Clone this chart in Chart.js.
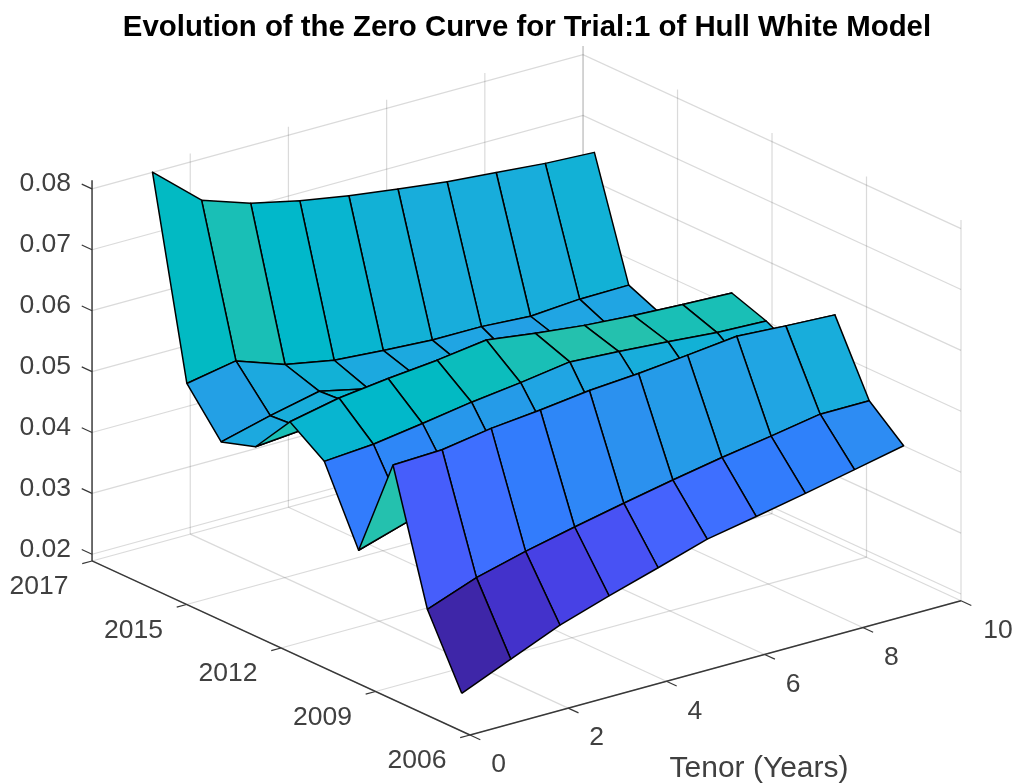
<!DOCTYPE html>
<html><head><meta charset="utf-8">
<style>html,body{margin:0;padding:0;background:#fff}canvas{display:block}</style>
<script src="https://cdn.jsdelivr.net/npm/chart.js@4/dist/chart.umd.min.js"></script>
</head><body><canvas id="c" width="1013" height="784"></canvas>
<script>
// ---- data ----
const tenors = [1,2,3,4,5,6,7,8,9,10];
const years = [2008.66,2009.66,2010.66,2011.66,2012.66,2013.66,2014.66,2015.66,2016.66,2017.66];
const curve2008 = [.0192,.0226,.0260,.0286,.0310,.0335,.0350,.0366,.0383,.0400];
const curve2009 = [.0304,.0334,.0355,.0373,.0390,.0406,.0421,.0434,.0448,.0448];
const curve2010 = [.0515,.0518,.0531,.0539,.0549,.0555,.0563,.0572,.0567,.0563];
const curve2011 = [.0349,.0374,.0402,.0413,.0427,.0431,.0453,.0456,.0463,.0471];
const curve2012 = [.0469,.0475,.0487,.0500,.0510,.0522,.0517,.0511,.0504,.0501];
const curve2013 = [.0508,.0525,.0535,.0543,.0554,.0543,.0534,.0528,.0524,.0521];
const curve2014 = [.0441,.0448,.0466,.0465,.0465,.0462,.0459,.0455,.0450,.0448];
const curve2015 = [.0423,.0444,.0462,.0444,.0441,.0434,.0424,.0431,.0429,.0431];
const curve2016 = [.0493,.0508,.0480,.0465,.0459,.0454,.0454,.0449,.0455,.0456];
const curve2017 = [.0814,.0746,.0719,.0701,.0687,.0676,.0666,.0659,.0652,.0648];
const zeroCurves = [curve2008,curve2009,curve2010,curve2011,curve2012,curve2013,curve2014,curve2015,curve2016,curve2017];
const tenorTicks = [0,2,4,6,8,10];
const tenorTickLabels = ['0','2','4','6','8','10'];
const yearTicks = [2006.99,2009.74,2012.49,2015.24,2017.99];
const yearTickLabels = ['2006','2009','2012','2015','2017'];
const rateTicks = [.02,.03,.04,.05,.06,.07,.08];
const rateTickLabels = ['0.02','0.03','0.04','0.05','0.06','0.07','0.08'];
const titleText = 'Evolution of the Zero Curve for Trial:1 of Hull White Model';
const tenorLabel = 'Tenor (Years)';

// ---- axes limits and view ----
const tMin=0,tMax=10,yMin=2006.99,yMax=2017.99,zMin=.0189,zMax=.0814;
const project=(t,Y,z)=>({x:470+49.1*t-34.36*(Y-yMin), y:735-13.43*t-15.82*(Y-yMin)-6090*(z-zMin)});

const parula=[[.2422,.1504,.6603],[.2504,.1650,.7076],[.2578,.1818,.7511],[.2647,.1978,.7952],[.2706,.2147,.8364],[.2751,.2342,.8710],[.2783,.2559,.8991],[.2803,.2782,.9221],[.2813,.3006,.9414],[.2810,.3228,.9579],[.2795,.3447,.9717],[.2760,.3667,.9829],[.2699,.3892,.9906],[.2602,.4123,.9952],[.2440,.4358,.9988],[.2206,.4603,.9973],[.1963,.4847,.9892],[.1834,.5074,.9798],[.1786,.5289,.9682],[.1764,.5499,.9520],[.1687,.5703,.9359],[.1540,.5902,.9218],[.1460,.6091,.9079],[.1380,.6276,.8973],[.1248,.6459,.8883],[.1113,.6635,.8763],[.0952,.6798,.8598],[.0689,.6948,.8394],[.0297,.7082,.8163],[.0036,.7203,.7917],[.0067,.7312,.7660],[.0433,.7411,.7394],[.0964,.7500,.7120],[.1408,.7584,.6842],[.1717,.7670,.6554],[.1938,.7758,.6251],[.2161,.7843,.5923],[.2470,.7918,.5567],[.2906,.7973,.5188],[.3406,.8008,.4789],[.3909,.8029,.4354],[.4456,.8024,.3909],[.5044,.7993,.3480],[.5616,.7942,.3045],[.6174,.7876,.2612],[.6720,.7793,.2227],[.7242,.7698,.1910],[.7738,.7598,.1646],[.8203,.7498,.1535],[.8634,.7406,.1596],[.9035,.7330,.1774],[.9393,.7288,.2100],[.9728,.7298,.2394],[.9956,.7434,.2371],[.9970,.7659,.2199],[.9952,.7861,.1967],[.9892,.8086,.1811],[.9786,.8288,.1637],[.9676,.8513,.1489],[.9610,.8728,.1531],[.9589,.8949,.1132],[.9598,.9218,.0948],[.9661,.9514,.0755],[.9763,.9831,.0538]];
const flat=zeroCurves.flat(), lo=Math.min(...flat), hi=Math.max(...flat);
const colorOf=z=>{const i=Math.min(63,Math.floor((z-lo)/(hi-lo)*64));const c=parula[i];return `rgb(${Math.round(c[0]*255)},${Math.round(c[1]*255)},${Math.round(c[2]*255)})`;};

const GRID='rgba(38,38,38,0.17)', AXIS='#383838';
const lineDs=(pts,color,width)=>({data:pts,showLine:true,fill:false,tension:0,pointRadius:0,borderColor:color,borderWidth:width,clip:false});
const back=[];   // drawn first
// floor grid
tenorTicks.forEach(t=>back.push(lineDs([project(t,yMin,zMin),project(t,yMax,zMin)],GRID,1.2)));
yearTicks.forEach(Y=>back.push(lineDs([project(tMin,Y,zMin),project(tMax,Y,zMin)],GRID,1.2)));
// wall Y=yMax, wall t=tMax: horizontal lines at rate ticks
rateTicks.forEach(z=>{
  back.push(lineDs([project(tMin,yMax,z),project(tMax,yMax,z),project(tMax,yMin,z)],GRID,1.2));
});
// wall verticals
tenorTicks.forEach(t=>back.push(lineDs([project(t,yMax,zMin),project(t,yMax,zMax)],GRID,1.2)));
yearTicks.forEach(Y=>back.push(lineDs([project(tMax,Y,zMin),project(tMax,Y,zMax)],GRID,1.2)));

// axis lines and tick marks
back.push(lineDs([project(tMin,yMax,zMin),project(tMin,yMax,zMax)],AXIS,1.4));
back.push(lineDs([project(tMin,yMax,zMin),project(tMin,yMin,zMin)],AXIS,1.4));
back.push(lineDs([project(tMin,yMin,zMin),project(tMax,yMin,zMin)],AXIS,1.4));
rateTicks.forEach(z=>back.push(lineDs([project(tMin,yMax,z),project(tMin,yMax+.3,z)],AXIS,1.2)));
yearTicks.forEach(Y=>back.push(lineDs([project(tMin,Y,zMin),project(tMin-.2,Y,zMin)],AXIS,1.2)));
tenorTicks.forEach(t=>back.push(lineDs([project(t,yMin,zMin),project(t,yMin-.3,zMin)],AXIS,1.2)));

// surface cells, far to near; each cell is coloured by its near, low-tenor corner
const cells=[];
for(let r=years.length-2;r>=0;r--){
  for(let j=tenors.length-2;j>=0;j--){
    const P=(a,b)=>project(tenors[b],years[a],zeroCurves[a][b]);
    const p0=P(r,j);
    cells.push({data:[p0,P(r,j+1),P(r+1,j+1),P(r+1,j),p0],showLine:true,fill:'shape',tension:0,pointRadius:0,
      borderColor:'#000',borderWidth:1.5,borderJoinStyle:'round',backgroundColor:colorOf(zeroCurves[r][j]),clip:false});
  }
}
// Chart.js paints the last dataset first
const datasets=back.concat(cells).reverse();

const TICK_FONT='26.5px "Liberation Sans", Arial, sans-serif';
const labelsPlugin={id:'labels3d',afterDraw(chart){
  const {ctx,scales:{x,y}}=chart;
  const put=(s,p,dx,dy,align)=>{ctx.textAlign=align||'center';ctx.textBaseline='middle';ctx.fillText(s,x.getPixelForValue(p.x)+dx,y.getPixelForValue(p.y)+dy);};
  ctx.save();ctx.fillStyle='#404040';ctx.font=TICK_FONT;
  rateTicks.forEach((z,i)=>put(rateTickLabels[i],project(tMin,yMax,z),-21,-5,'right'));
  yearTicks.forEach((Y,i)=>put(yearTickLabels[i],project(tMin,Y,zMin),-53,26));
  tenorTicks.forEach((t,i)=>put(tenorTickLabels[i],project(t,yMin,zMin),t===10?37:28.5,30));
  ctx.font='30px "Liberation Sans", Arial, sans-serif';
  ctx.textAlign='center';ctx.fillText(tenorLabel,x.getPixelForValue(759),y.getPixelForValue(769));
  ctx.restore();
}};

const TITLE_SIZE=29.4,TITLE_TOP=10,TITLE_BOTTOM=2,LEFT_PAD=41;
new Chart(document.getElementById('c'),{
  type:'scatter',
  data:{datasets},
  plugins:[labelsPlugin],
  options:{
    responsive:false,animation:false,
    layout:{padding:{left:LEFT_PAD}},
    plugins:{
      legend:{display:false},tooltip:{enabled:false},
      title:{display:true,text:titleText,color:'#000',align:'center',fullSize:false,
        font:{family:'"Liberation Sans", Arial, sans-serif',size:TITLE_SIZE,weight:'bold',lineHeight:1.2},
        padding:{top:TITLE_TOP,bottom:TITLE_BOTTOM}}
    },
    scales:{
      x:{type:'linear',display:false,min:LEFT_PAD,max:1013},
      y:{type:'linear',display:false,reverse:true,min:TITLE_TOP+TITLE_BOTTOM+TITLE_SIZE*1.2,max:784}
    }
  }
});
</script></body></html>
